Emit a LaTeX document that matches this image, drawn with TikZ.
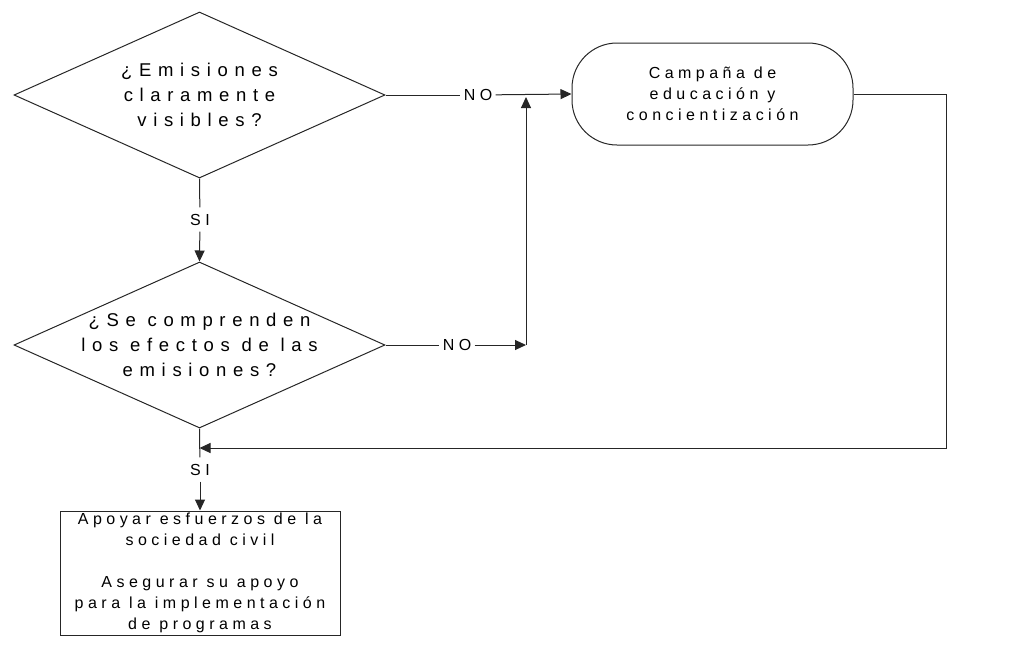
\documentclass[tikz,border=0pt]{standalone}
\usepackage{fontspec}
\setmainfont{Liberation Sans}
\newfontfamily\qfont[LetterSpace=36]{Liberation Sans}
\newfontfamily\bfont[LetterSpace=28]{Liberation Sans}
\usetikzlibrary{shapes.geometric, arrows.meta, positioning}
\tikzset{
    decision/.style={
        draw,
        diamond,
        inner sep=0pt,
        minimum width=371pt,
        minimum height=166pt
    },
    qtext/.style={
        align=center,
        inner sep=0pt,
        font=\qfont\fontsize{18.5}{25}\selectfont
    },
    terminal/.style={
        draw,
        rounded corners=45pt,
        align=center,
        minimum width=281pt,
        minimum height=102pt,
        font=\bfont\fontsize{16}{21}\selectfont
    },
    process/.style={
        draw,
        align=center,
        inner sep=0pt,
        minimum width=280pt,
        minimum height=124pt,
        font=\bfont\fontsize{16}{21}\selectfont
    },
    answer/.style={
        inner xsep=3pt,
        inner ysep=6pt,
        font=\bfont\fontsize{16}{21}\selectfont
    },
    arr/.style={
        -{Triangle[length=11pt,width=10pt]}
    }
}

\begin{document}
\begin{tikzpicture}[x=1pt,y=-1pt,line width=1pt,draw=black!85]
  \useasboundingbox (0,0) rectangle (1010,646);
  % preguntas
  \node[decision] (q1) at (199.5,95) {};
  \node[qtext] at (q1) {¿Emisiones\\claramente\\visibles?};
  \node[decision] (q2) at (199.5,345) {};
  \node[qtext] at (q2) {¿Se comprenden\\los efectos de las\\emisiones?};
  % acciones
  \node[terminal] (camp) at (712.5,94) {Campaña de\\educación y\\concientización};
  \node[process] (act) at (200,573) {Apoyar esfuerzos de la\\sociedad civil\\[21pt]Asegurar su apoyo\\para la implementación\\de programas};
  % respuestas
  \node[answer] (no1) at (478,95) {NO};
  \node[answer] (no2) at (457,345) {NO};
  \node[answer] (si1) at (200,219.5) {SI};
  \node[answer] (si2) at (200,469.5) {SI};
  \coordinate (jtop) at (526,97);
  \coordinate (jbot) at (526,345);
  \coordinate (fb) at (946,448);

  \draw (q1.east) -- (no1);
  \draw[arr] (no1) -- (camp.west);
  \draw (q2.east) -- (no2);
  \draw[arr] (no2) -- (jbot);
  \draw[arr] (jbot) -- (jtop);
  \draw (q1.south) -- (si1);
  \draw[arr] (si1) -- (q2.north);
  \draw (q2.south) -- (si2);
  \draw[arr] (si2) -- (act.north);
  \draw[arr] (camp.east) -| (fb) -- (fb -| q2.south);
\end{tikzpicture}
\end{document}
